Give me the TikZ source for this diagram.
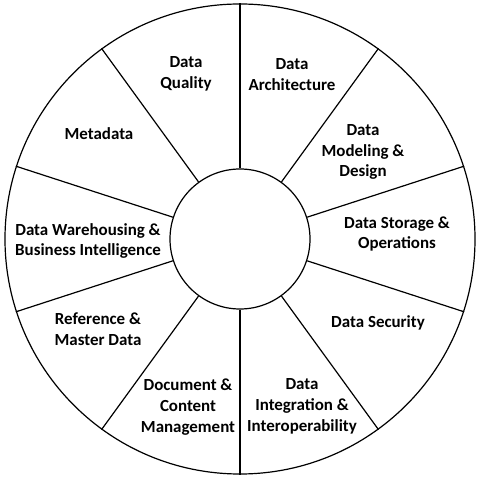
\documentclass[tikz,border=0pt]{standalone}
\usepackage{fontspec}
\setmainfont{Carlito}
\usetikzlibrary{positioning}

\begin{document}
\begin{tikzpicture}[x=1bp,y=1bp,line width=1.2bp,
  ring node/.style={circle,draw,inner sep=0pt},
  area label/.style={align=center,font=\fontsize{17}{21}\selectfont\bfseries}]
  \useasboundingbox (-240,-242) rectangle (246,239);

  \node[ring node,minimum size=470bp] (wheel) at (0,0) {};
  \node[ring node,minimum size=140bp] (hub) at (0,0) {};

  \foreach \a in {18,54,...,342}
    \draw (hub.\a) -- (wheel.\a);

  \node[area label] (quality) at (-54,165) {Data\\Quality};
  \node[area label] (architecture) at (52,164) {Data\\Architecture};
  \node[area label] (modeling) at (123,87) {Data\\Modeling \&\\Design};
  \node[area label] (storage) at (157,5) {Data Storage \&\\Operations};
  \node[area label] (security) at (138,-84) {Data Security};
  \node[area label] (integration) at (62,-167) {Data\\Integration \&\\Interoperability};
  \node[area label] (document) at (-52,-168) {Document \&\\Content\\Management};
  \node[area label] (reference) at (-142,-90) {Reference \&\\Master Data};
  \node[area label] (warehousing) at (-152,-2) {Data Warehousing \&\\Business Intelligence};
  \node[area label] (metadata) at (-141,105) {Metadata};
\end{tikzpicture}
\end{document}
